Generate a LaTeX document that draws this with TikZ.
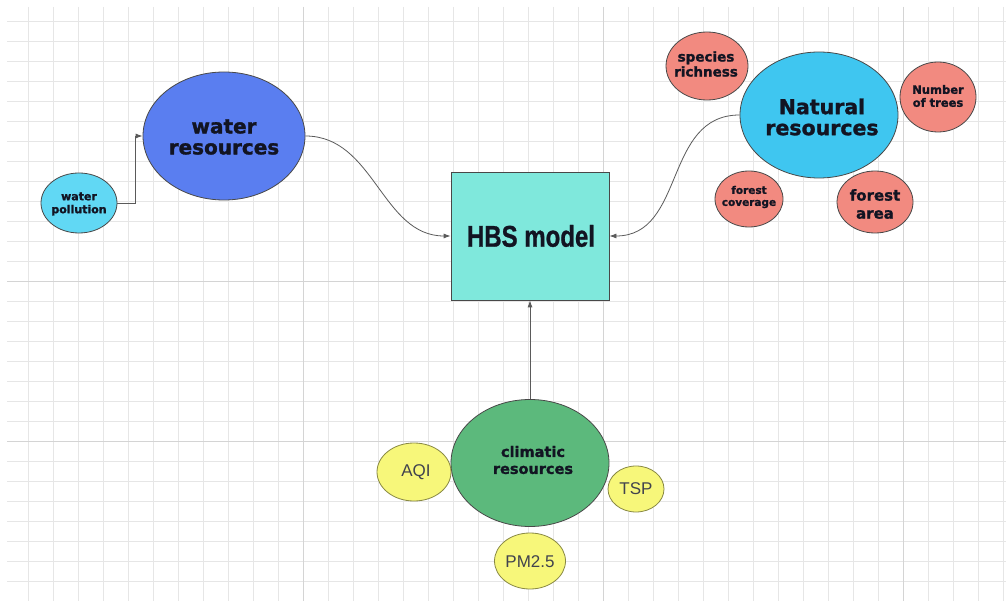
\documentclass[tikz,border=0pt]{standalone}
\usepackage{fontspec}
\setmainfont{Liberation Sans}[BoldFeatures={FakeBold=1}]
\newfontfamily\heavy{DejaVu Sans}[BoldFeatures={FakeBold=1.4}]
\usetikzlibrary{shapes.geometric,arrows.meta}
\definecolor{gridc}{RGB}{230,230,230}
\definecolor{gridm}{RGB}{212,212,212}
\definecolor{wpc}{RGB}{97,216,244}
\definecolor{wrc}{RGB}{90,126,240}
\definecolor{nrc}{RGB}{63,198,240}
\definecolor{salc}{RGB}{242,138,128}
\definecolor{hbsc}{RGB}{127,232,220}
\definecolor{clc}{RGB}{92,185,124}
\definecolor{yelc}{RGB}{247,247,122}
\definecolor{txtc}{RGB}{18,20,34}
\definecolor{linec}{RGB}{90,90,90}
\begin{document}
\begin{tikzpicture}[x=1pt,y=-1pt,
  gridl/.style={draw=gridc,line width=0.8pt},
  gridmaj/.style={draw=gridm,line width=0.9pt},
  ell/.style={ellipse,draw=linec!80!black,line width=0.8pt,inner sep=0pt},
  yel/.style={ell,fill=yelc,draw=yelc!55!black},
  sal/.style={ell,fill=salc},
  txt/.style={align=center,text=txtc,inner sep=0pt,font=\heavy\bfseries},
  conn/.style={draw=linec,line width=0.8pt,-{Latex[length=7pt,width=5pt]}}]
\useasboundingbox (0,0) rectangle (1006,601);
\fill[white] (0,0) rectangle (1006,601);
% grid
\foreach \k in {1,...,40} \draw[gridl] ({3+25*\k},7) -- ({3+25*\k},601);
\foreach \k in {0,...,29} \draw[gridl] (7,{21+20*\k}) -- (1006,{21+20*\k});
\foreach \xx in {303,603,903} \draw[gridmaj] (\xx,7) -- (\xx,601);
\foreach \yy in {281,441} \draw[gridmaj] (7,\yy) -- (1006,\yy);

% nodes
\node[rectangle,draw=linec!80!black,line width=0.8pt,fill=hbsc,minimum width=158pt,minimum height=128pt,inner sep=0pt] (hbs) at (530,236) {};
\node[txt,font=\bfseries\fontsize{30}{30}\selectfont] (hbst) at (531,236) {\scalebox{0.8}[1]{HBS model}};

\node[ell,fill=wpc,minimum width=76pt,minimum height=60pt] (wp) at (79,203) {};
\node[txt,font=\heavy\bfseries\fontsize{11}{13}\selectfont] (wpt) at (79,204) {water\\pollution};

\node[ell,fill=wrc,minimum width=162pt,minimum height=128pt] (wr) at (224,136) {};
\node[txt,font=\heavy\bfseries\fontsize{20}{21}\selectfont] (wrt) at (224,137) {water\\resources};

\node[ell,fill=nrc,minimum width=158pt,minimum height=126pt] (nr) at (819,115) {};
\node[txt,font=\heavy\bfseries\fontsize{20.5}{21}\selectfont] (nrt) at (822,117) {Natural\\resources};

\node[sal,minimum width=82pt,minimum height=68pt] (sr) at (707,66) {};
\node[txt,font=\heavy\bfseries\fontsize{13.5}{15}\selectfont] (srt) at (706,64) {species\\richness};

\node[sal,minimum width=76pt,minimum height=70pt] (nt) at (938,97) {};
\node[txt,font=\heavy\bfseries\fontsize{11.5}{13}\selectfont] (ntt) at (938,96) {Number\\of trees};

\node[sal,minimum width=68pt,minimum height=56pt] (fc) at (749,199) {};
\node[txt,font=\heavy\bfseries\fontsize{10.5}{12}\selectfont] (fct) at (749,197) {forest\\coverage};

\node[sal,minimum width=76pt,minimum height=62pt] (fa) at (875,202) {};
\node[txt,font=\heavy\bfseries\fontsize{15}{18}\selectfont] (fat) at (875,204) {forest\\area};

\node[ell,fill=clc,minimum width=158pt,minimum height=127pt] (cl) at (530,463) {};
\node[txt,font=\heavy\bfseries\fontsize{14.5}{17}\selectfont] (clt) at (533,460) {climatic\\resources};

\node[yel,minimum width=74pt,minimum height=58pt] (aqi) at (414,472) {};
\node[txt,font=\fontsize{17}{17}\selectfont,text=txtc!80!white] (aqit) at (416,472) {AQI};

\node[yel,minimum width=56pt,minimum height=46pt] (tsp) at (636,489) {};
\node[txt,font=\fontsize{17}{17}\selectfont,text=txtc!80!white] (tspt) at (636,489) {TSP};

\node[yel,minimum width=71pt,minimum height=56pt] (pm) at (530,561) {};
\node[txt,font=\fontsize{17}{17}\selectfont,text=txtc!80!white] (pmt) at (530,562) {PM2.5};

% connectors
\draw[conn] (wp.east) -- ++(18,0) |- (wr.west);
\draw[conn] (wr.east) to[out=0,in=180] (hbs.west);
\draw[conn] (nr.west) to[out=180,in=0,looseness=1.1] (hbs.east);
\draw[conn] (cl.north) -- (hbs.south);
\end{tikzpicture}
\end{document}
